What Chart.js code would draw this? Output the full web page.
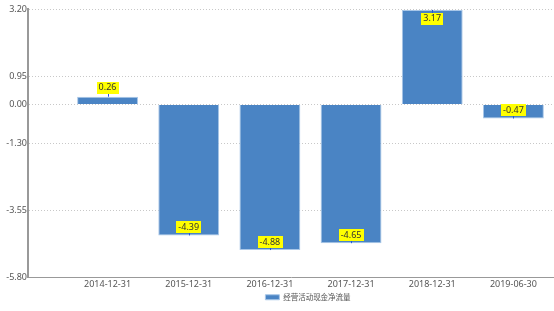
<!DOCTYPE html>
<html>
<head>
<meta charset="utf-8">
<script src="https://cdn.jsdelivr.net/npm/chart.js@4"></script>
<style>
  html, body { margin: 0; padding: 0; background: #fff; }
  #wrap { width: 554px; height: 311px; }
</style>
</head>
<body>
<div id="wrap"><canvas id="chart"></canvas></div>
<script>
const categories = ['2014-12-31', '2015-12-31', '2016-12-31', '2017-12-31', '2018-12-31', '2019-06-30'];
const cashFlow = [0.26, -4.39, -4.88, -4.65, 3.17, -0.47];
const yTicks = [-5.80, -3.55, -1.30, 0.00, 0.95, 3.20];
const seriesName = '经营活动现金净流量';

// yellow value boxes with a little pointer line at the bar end
const valueLabels = {
  id: 'valueLabels',
  afterLayout(chart) {
    // legend in the original sits a bit right of the canvas centre
    chart.legend.left += 31;
    chart.legend.right += 31;
  },
  afterDatasetsDraw(chart) {
    const ctx = chart.ctx;
    const meta = chart.getDatasetMeta(0);
    ctx.save();
    ctx.font = '9px "Noto Sans", sans-serif';
    ctx.textAlign = 'center';
    ctx.textBaseline = 'middle';
    meta.data.forEach((bar, i) => {
      const v = cashFlow[i];
      const text = v.toFixed(2);
      const endY = bar.y;
      const h = Math.abs(bar.base - bar.y);
      let ly;
      if (v >= 0) ly = h > 22 ? endY + 9 : endY - 9;
      else ly = endY - 8;
      const w = ctx.measureText(text).width + 4;
      ctx.strokeStyle = '#2255dd';
      ctx.lineWidth = 1;
      ctx.beginPath();
      ctx.moveTo(Math.round(bar.x) + 0.5, endY);
      ctx.lineTo(Math.round(bar.x) + 0.5, ly);
      ctx.stroke();
      ctx.fillStyle = '#ffff00';
      ctx.fillRect(Math.round(bar.x - w / 2), Math.round(ly - 6), Math.round(w), 12);
      ctx.fillStyle = '#333';
      ctx.fillText(text, bar.x, ly);
    });
    ctx.restore();
  }
};

new Chart(document.getElementById('chart'), {
  type: 'bar',
  data: {
    datasets: [{
      label: seriesName,
      data: cashFlow.map((v, i) => ({ x: i, y: v })),
      backgroundColor: '#4a84c4',
      borderColor: '#a9c7e8',
      borderWidth: 1,
      categoryPercentage: 0.75,
      barPercentage: 1
    }]
  },
  options: {
    responsive: true,
    maintainAspectRatio: false,
    animation: false,
    layout: { padding: { top: 9, right: 0, left: 0, bottom: 0 } },
    plugins: {
      legend: {
        position: 'bottom',
        labels: {
          boxWidth: 14,
          boxHeight: 5,
          padding: 3,
          color: '#555',
          font: { size: 7.5, family: '"Noto Sans CJK SC", sans-serif' }
        }
      },
      tooltip: { enabled: false }
    },
    scales: {
      x: {
        type: 'linear',
        min: -0.98,
        max: 5.5,
        offset: false,
        afterBuildTicks(axis) {
          axis.ticks = categories.map((c, i) => ({ value: i }));
        },
        grid: { display: false, drawTicks: false },
        border: { color: '#999', width: 1 },
        ticks: {
          color: '#555',
          font: { size: 9, lineHeight: 1, family: '"Noto Sans", sans-serif' },
          padding: 2,
          maxRotation: 0,
          autoSkip: false,
          callback: v => categories[v]
        }
      },
      y: {
        min: -5.8,
        max: 3.2,
        afterBuildTicks(axis) {
          axis.ticks = yTicks.map(v => ({ value: v }));
        },
        afterFit(axis) { axis.width = 28; },
        grid: { color: '#c8c8c8', tickLength: 0 },
        border: { color: '#999', width: 2, dash: [1, 2] },
        ticks: {
          color: '#555',
          font: { size: 9, family: '"Noto Sans", sans-serif' },
          padding: 1,
          callback: v => v.toFixed(2)
        }
      }
    }
  },
  plugins: [valueLabels]
});
</script>
</body>
</html>
